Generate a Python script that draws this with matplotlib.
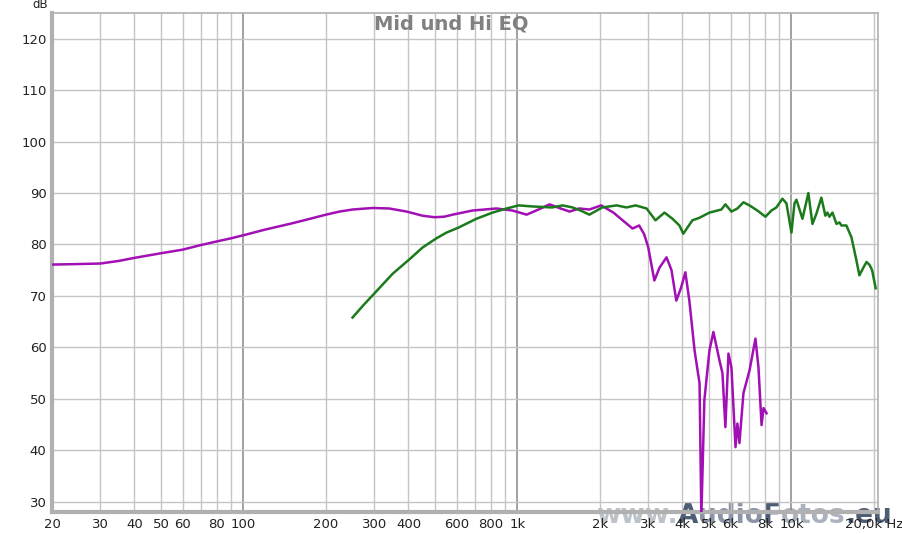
import matplotlib
matplotlib.use("Agg")
import matplotlib.pyplot as plt
from matplotlib.ticker import FixedLocator, NullLocator, NullFormatter

# ---- data ----
mid_freq = [20, 25, 30, 35, 40, 50, 60, 70, 80, 90, 100, 120, 150, 175, 200, 224, 250, 296,
            340, 394, 450, 498, 540, 580, 685, 838, 959, 1080, 1170, 1310, 1420, 1550, 1680,
            1830, 2020, 2240, 2420, 2630, 2780, 2900, 3000, 3160, 3300, 3500, 3650, 3800, 3950,
            4100, 4240, 4430, 4620, 4690, 4810, 5020, 5190, 5460, 5600, 5740, 5890, 6040, 6250,
            6350, 6460, 6680, 7030, 7390, 7580, 7780, 7910, 8110]
mid_db = [76.1, 76.2, 76.3, 76.8, 77.4, 78.3, 79.0, 79.9, 80.6, 81.2, 81.8, 82.9, 84.1, 85.0,
          85.8, 86.4, 86.8, 87.1, 87.0, 86.4, 85.6, 85.3, 85.4, 85.8, 86.6, 87.0, 86.6, 85.8,
          86.6, 87.8, 87.1, 86.4, 87.0, 86.8, 87.6, 86.2, 84.7, 83.1, 83.7, 82.0, 79.5, 73.0,
          75.5, 77.5, 75.0, 69.1, 71.5, 74.6, 69.1, 59.4, 53.0, 27.0, 49.7, 59.4, 63.0, 57.5,
          55.0, 44.5, 58.8, 56.1, 40.6, 45.2, 41.4, 51.1, 55.5, 61.7, 56.1, 44.9, 48.2, 47.2]

hi_freq = [250, 275, 303, 350, 407, 450, 506, 550, 610, 708, 811, 912, 1010, 1130, 1340, 1460,
           1590, 1700, 1830, 2040, 2300, 2500, 2700, 2960, 3190, 3440, 3680, 3900, 4030, 4350,
           4620, 5020, 5550, 5740, 6040, 6350, 6680, 7030, 7510, 8040, 8450, 8810, 9270, 9590,
           10000, 10260, 10430, 10970, 11530, 11930, 12340, 12860, 13300, 13530, 13760, 14120,
           14600, 14970, 15220, 15870, 16560, 17270, 17700, 18300, 18800, 19300, 19700, 20300]
hi_db = [65.8, 68.3, 70.7, 74.3, 77.3, 79.4, 81.2, 82.3, 83.3, 85.0, 86.2, 87.0, 87.6, 87.4,
         87.2, 87.6, 87.2, 86.6, 85.8, 87.2, 87.6, 87.2, 87.6, 87.0, 84.7, 86.2, 85.0, 83.7,
         82.1, 84.7, 85.2, 86.2, 86.8, 87.8, 86.4, 87.0, 88.2, 87.6, 86.6, 85.4, 86.6, 87.2,
         88.9, 88.0, 82.3, 88.0, 88.7, 85.0, 90.0, 84.0, 86.0, 89.1, 85.6, 86.2, 85.4, 86.2,
         84.0, 84.3, 83.7, 83.7, 81.4, 76.9, 74.0, 75.5, 76.6, 76.0, 75.0, 71.5]

x_ticks = [20, 30, 40, 50, 60, 80, 100, 200, 300, 400, 600, 800, 1000, 2000, 3000, 4000,
           5000, 6000, 8000, 10000, 20000]
x_labels = ["20", "30", "40", "50", "60", "80", "100", "200", "300", "400", "600", "800",
            "1k", "2k", "3k", "4k", "5k", "6k", "8k", "10k", "20,0k Hz"]
y_ticks = [30, 40, 50, 60, 70, 80, 90, 100, 110, 120]
title = "Mid und Hi EQ"
watermark = [("www.", "#bcc2ca"), ("A", "#4d5d74"), ("udio", "#8a94a6"),
             ("F", "#4d5d74"), ("otos", "#aab2be"), (".eu", "#4d5d74")]

# ---- figure ----
W, H = 902, 534
fig = plt.figure(figsize=(W / 100, H / 100), dpi=100)
ax = fig.add_axes([52 / W, 1 - 512 / H, (878 - 52) / W, (512 - 13) / H])
ax.set_xscale("log")
ax.set_xlim(20, 20700)
ax.set_ylim(28, 125)
ax.patch.set_visible(False)

# grid
minor = [m * 10 ** e for e in range(1, 5) for m in range(2, 10) if 20 <= m * 10 ** e <= 20000]
for f in minor:
    ax.axvline(f, color="#c4c4c4", lw=1.0, zorder=0)
for f in [100, 1000, 10000]:
    ax.axvline(f, color="#888888", lw=1.1, zorder=0)
for y in y_ticks:
    ax.axhline(y, color="#c4c4c4", lw=1.0, zorder=0)

ax.plot(mid_freq, mid_db, color="#a20fb4", lw=1.8, zorder=3)
ax.plot(hi_freq, hi_db, color="#1b7a1b", lw=1.8, zorder=3)

ax.xaxis.set_major_locator(FixedLocator(x_ticks))
ax.xaxis.set_minor_locator(NullLocator())
ax.xaxis.set_minor_formatter(NullFormatter())
ax.set_xticklabels(x_labels)
ax.set_yticks(y_ticks)
ax.tick_params(axis="both", length=0, labelsize=9.5, colors="#222222", pad=4)

for s in ax.spines.values():
    s.set_color("#b0b0b0")
    s.set_linewidth(1.2)
ax.spines["left"].set_linewidth(3)
ax.spines["bottom"].set_linewidth(3)

fig.text(40 / W, 1 - 5 / H, "dB", ha="center", va="center", fontsize=8.5, color="#222222")
fig.text(451 / W, 1 - 14 / H, title, ha="center", va="top", fontsize=14,
         fontweight="bold", color="#808080")

# watermark (behind axes content)
fig.canvas.draw()
renderer = fig.canvas.get_renderer()
xpos = 596
for txt, col in watermark:
    t = fig.text(xpos / W, 1 - 516 / H, txt, ha="left", va="center", fontsize=19,
                 fontweight="bold", color=col, zorder=-1)
    xpos += t.get_window_extent(renderer).width

fig.savefig("out.png", dpi=100)
